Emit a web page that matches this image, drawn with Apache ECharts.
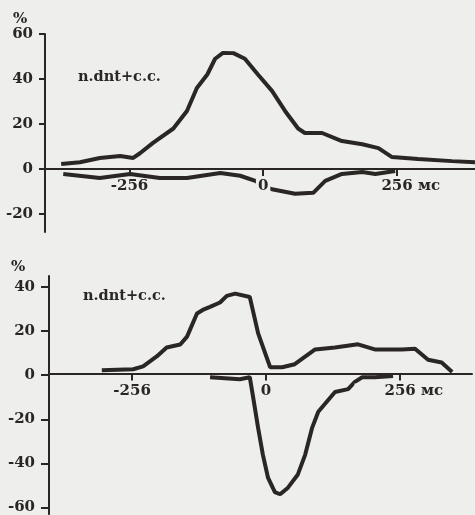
<!DOCTYPE html>
<html><head><meta charset="utf-8">
<script src="https://cdn.jsdelivr.net/npm/echarts@6/dist/echarts.min.js"></script>
<style>html,body{margin:0;padding:0;background:#eeeeec}#c{width:475px;height:515px}</style>
</head><body><div id="c"></div>
<script>
// Top panel
const topUpperT = [-387,-351,-313,-274,-249,-236,-211,-172,-146,-127,-107,-92,-77,-57,-35,-10,17,42,67,80,113,151,190,221,247,297,362,406];
const topUpperV = [2.2,3,4.9,5.8,4.9,7,11.6,18,25.8,36,42,49,51.6,51.5,49,42,34.7,25.8,18,16,16,12.4,11,9.3,5.3,4.4,3.5,3];
const topLowerT = [-383,-313,-255,-198,-146,-82,-44,-15,0,17,61,96,119,151,190,215,253];
const topLowerV = [-2.2,-4,-2.2,-4,-4,-1.8,-3,-5.3,-7.5,-9,-11,-10.6,-5.3,-2.2,-1.3,-2.2,-0.9];
// Bottom panel
const botUpperT = [-314,-254,-235,-209,-190,-164,-151,-132,-121,-107,-88,-75,-59,-31,-15,8,31,55,94,132,176,208,260,285,310,336,356];
const botUpperV = [2.2,2.7,4,8.5,12.6,13.9,17.5,28,29.6,31,33,36,37,35.5,19,3.6,3.6,5,11.7,12.6,14,11.7,11.7,12,7,5.8,1.5];
const botLowerT = [-107,-50,-31,-25,-15,-6,4,17,27,42,61,75,88,100,132,157,170,184,208,243];
const botLowerV = [-0.9,-1.8,-0.9,-9.4,-24,-36,-46.6,-53,-54,-51,-45,-36,-24,-16.6,-7.6,-6.3,-3,-0.9,-0.9,-0.4];
const xTicks = [-256,0,256];
const topYTicks = [60,40,20,0,-20];
const botYTicks = [40,20,0,-20,-40,-60];
const seriesLabel = 'n.dnt+c.c.';
const yUnit = '%';
const xUnit = 'мс';

const ink = '#292624';
const font = 'DejaVu Serif';
const zip = (a,b) => a.map((t,i)=>[t,b[i]]);

// grid geometry
const G0 = {left:45, right:0, top:34, height:198}, Y0 = [-28,60];
const G1 = {left:49, right:3, top:276, height:241}, Y1 = [-63,45];
// shift x axis from grid bottom up to the value-0 line
const off = (g,y) => -(g.height * (0 - y[0]) / (y[1]-y[0]));

function xAxis(gi, min, max, offset){
  return {type:'value', gridIndex:gi, min, max, z:10, position:'bottom', offset,
    axisLine:{onZero:false, lineStyle:{color:ink,width:2}},
    axisTick:{show:true, customValues:xTicks, length:7, lineStyle:{color:ink,width:2}},
    axisLabel:{customValues:xTicks, color:ink, fontFamily:font, fontWeight:'bold', fontSize:15, margin:10,
      backgroundColor:'#eeeeec', padding:[0,2,0,2],
      formatter:v=> v===256 ? '{u|256 '+xUnit+'}' : String(v),
      rich:{u:{color:ink, fontFamily:font, fontWeight:'bold', fontSize:15, padding:[0,0,0,28]}}},
    splitLine:{show:false}};
}
function yAxis(gi, min, max, ticks, margin, tlen){
  return {type:'value', gridIndex:gi, min, max,
    axisLine:{show:true, onZero:false, lineStyle:{color:ink,width:2}},
    axisTick:{show:true, customValues:ticks, length:tlen, lineStyle:{color:ink,width:2}},
    axisLabel:{customValues:ticks, color:ink, fontFamily:font, fontWeight:'bold', fontSize:15, margin},
    splitLine:{show:false}};
}
function line(gi, t, v){
  return {type:'line', xAxisIndex:gi, yAxisIndex:gi, data:zip(t,v), showSymbol:false, smooth:false,
    lineStyle:{color:ink, width:4}, animation:false};
}
const chart = echarts.init(document.getElementById('c'));
chart.setOption({
  backgroundColor:'#eeeeec',
  animation:false,
  grid:[G0, G1],
  xAxis:[xAxis(0,-418,406,off(G0,Y0)), xAxis(1,-415,394,off(G1,Y1))],
  yAxis:[yAxis(0,Y0[0],Y0[1],topYTicks,12,6), yAxis(1,Y1[0],Y1[1],botYTicks,14,8)],
  series:[line(0,topUpperT,topUpperV), line(0,topLowerT,topLowerV), line(1,botUpperT,botUpperV), line(1,botLowerT,botLowerV)],
  graphic:[
    {type:'text', left:13, top:12, style:{text:yUnit, fill:ink, font:'bold 15px "DejaVu Serif"'}},
    {type:'text', left:11, top:260, style:{text:yUnit, fill:ink, font:'bold 15px "DejaVu Serif"'}},
    {type:'text', left:78, top:70, style:{text:seriesLabel, fill:ink, font:'bold 14.5px "DejaVu Serif"'}},
    {type:'text', left:83, top:289, style:{text:seriesLabel, fill:ink, font:'bold 14.5px "DejaVu Serif"'}}
  ]
});
</script></body></html>
